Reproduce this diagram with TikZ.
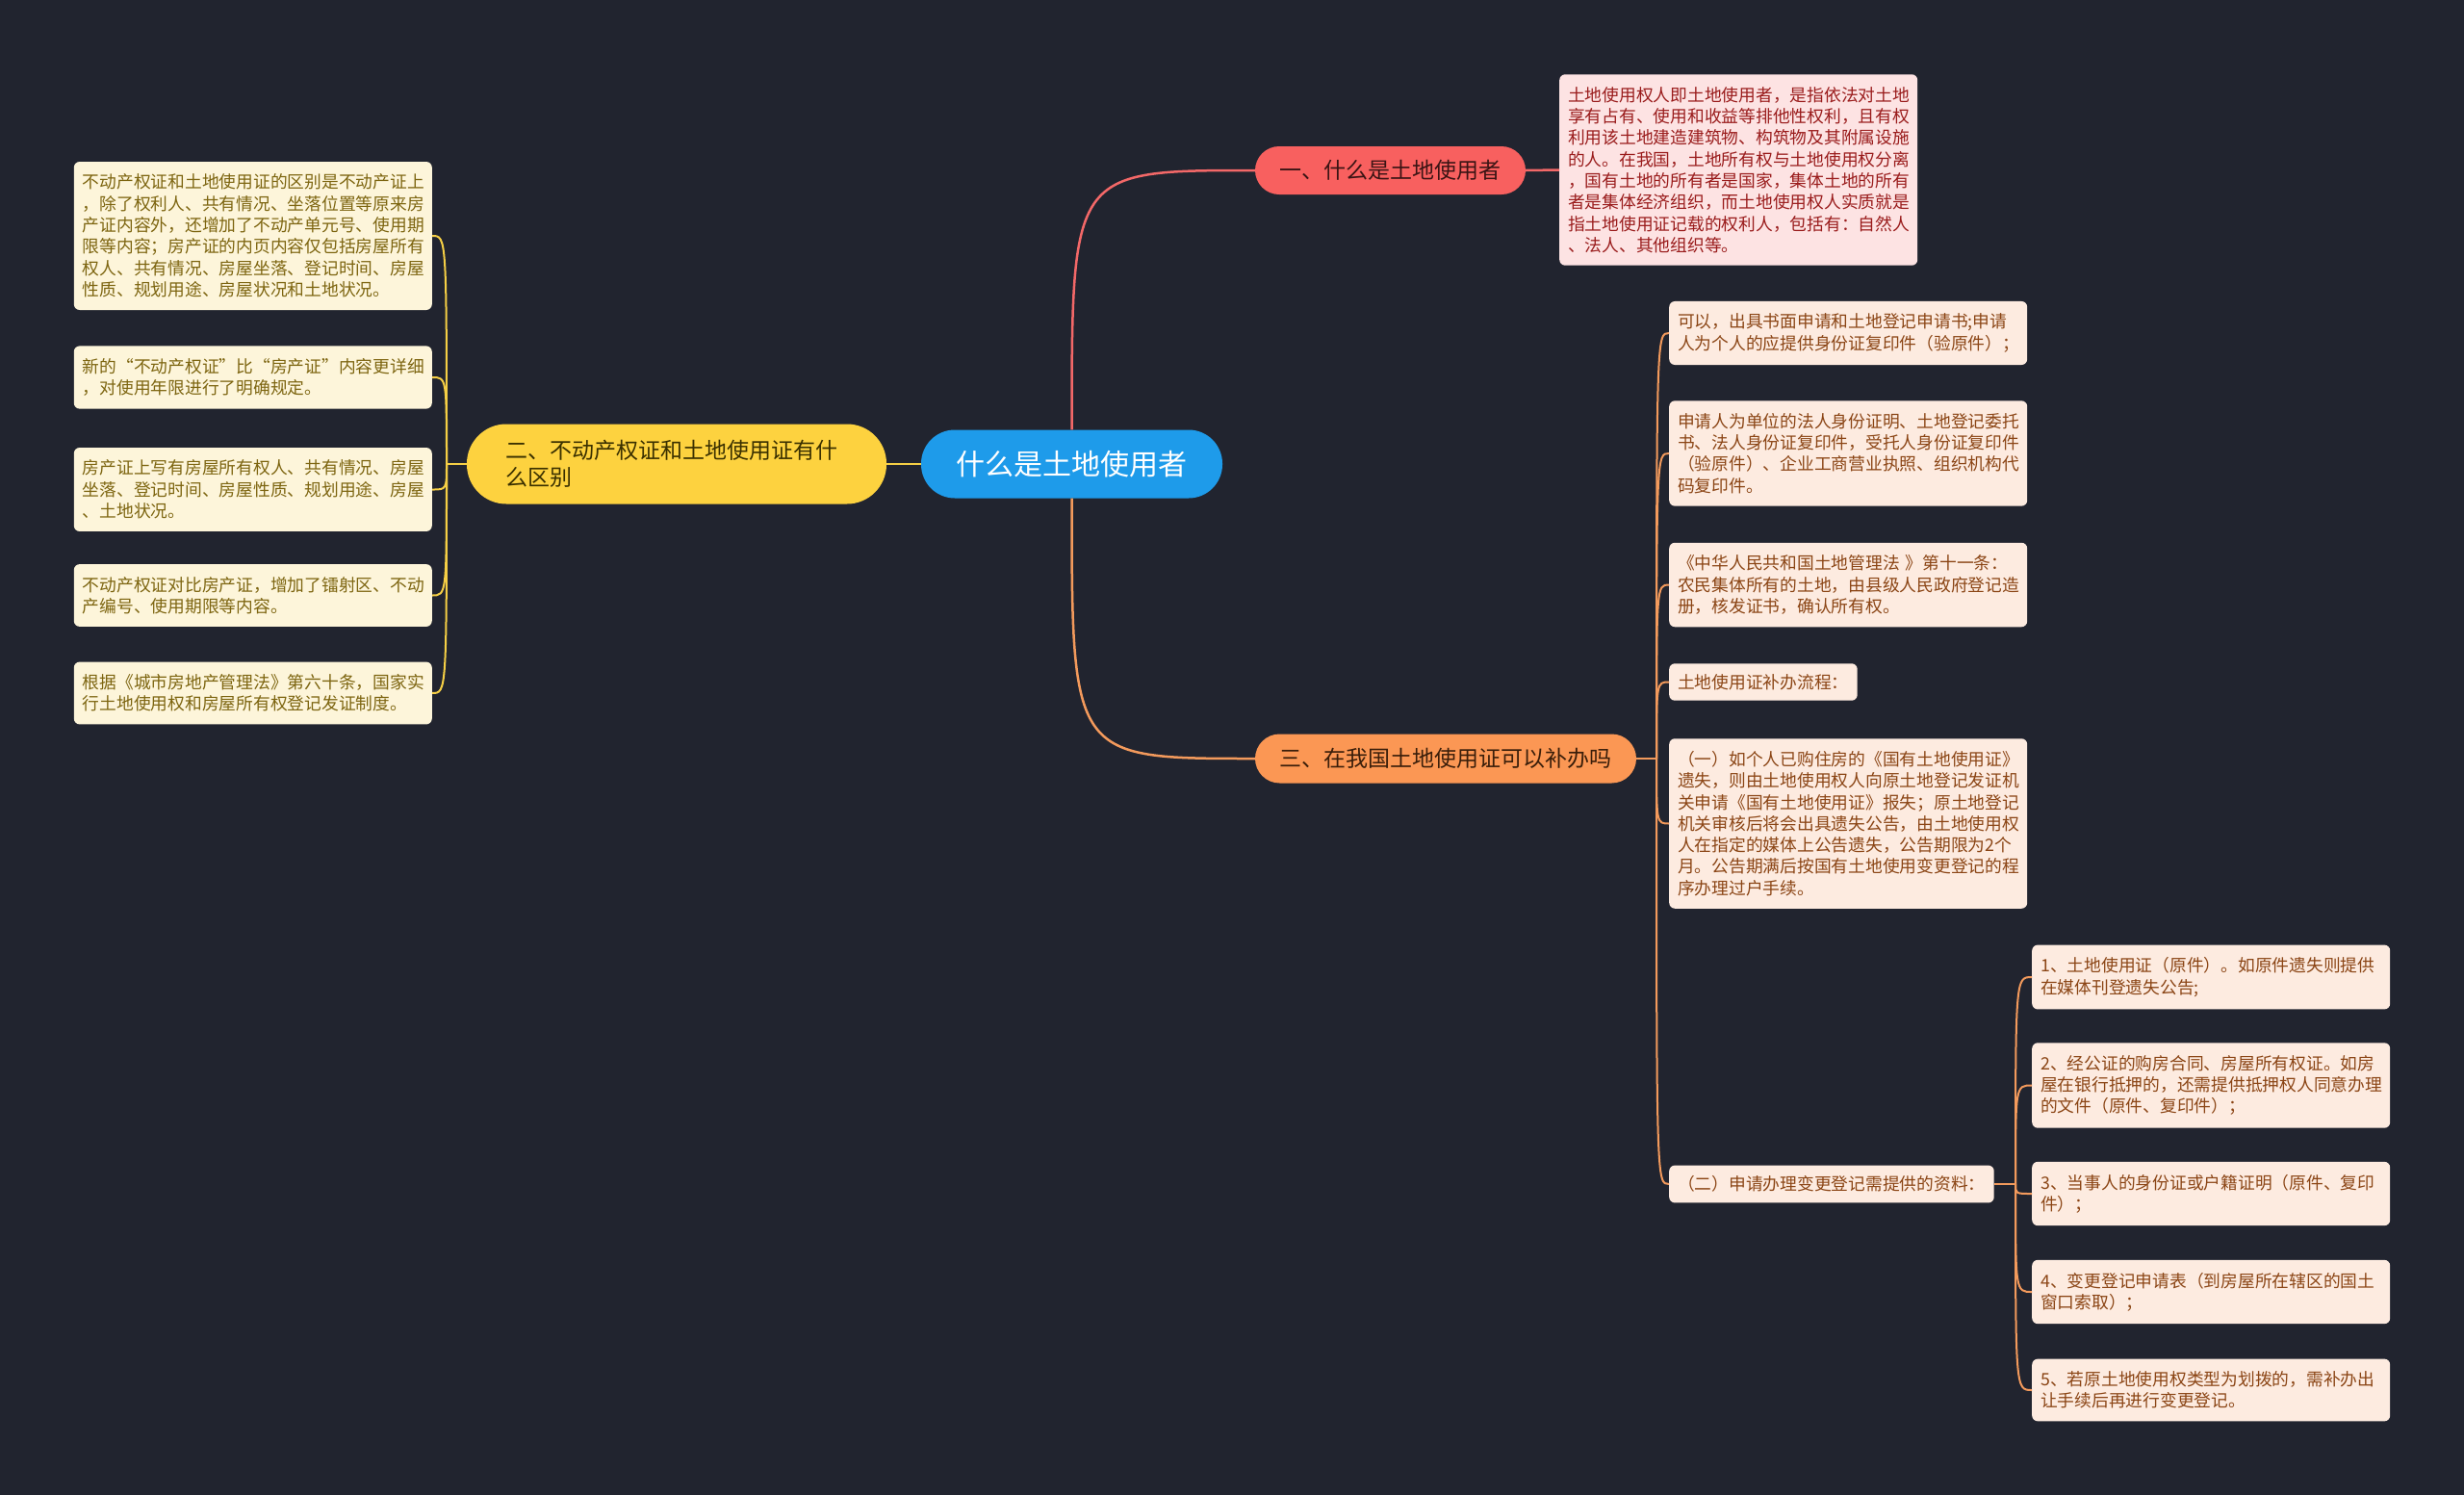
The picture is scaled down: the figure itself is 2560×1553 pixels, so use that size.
\documentclass[tikz,border=0pt]{standalone}
\usepackage{fontspec}
\setmainfont{Noto Sans CJK SC}
\definecolor{bg}{HTML}{21242F}
\definecolor{cblue}{HTML}{1E9BEA}
\definecolor{rfill}{HTML}{F8605F}
\definecolor{rtext}{HTML}{3A1414}
\definecolor{rbox}{HTML}{FDE3E3}
\definecolor{rboxtext}{HTML}{9A1C1C}
\definecolor{rcol}{HTML}{F36868}
\definecolor{yfill}{HTML}{FDD23F}
\definecolor{ytext}{HTML}{3A3000}
\definecolor{ybox}{HTML}{FDF5DA}
\definecolor{yboxtext}{HTML}{7D6510}
\definecolor{ycol}{HTML}{F5CF45}
\definecolor{ofill}{HTML}{FB9754}
\definecolor{otext}{HTML}{3A1E0A}
\definecolor{obox}{HTML}{FDEBE0}
\definecolor{oboxtext}{HTML}{8B4515}
\definecolor{ocol}{HTML}{F39A5C}
\begin{document}
\begin{tikzpicture}[x=1pt,y=-1pt,
  leaf/.style={rounded corners=6pt, inner xsep=9pt, inner ysep=13pt,
    font=\fontsize{17.75pt}{22.3pt}\selectfont, align=left},
  wleaf/.style={leaf, text width=354pt},
  yleaf/.style={wleaf, fill=ybox, text=yboxtext, anchor=east},
  oleaf/.style={wleaf, fill=obox, text=oboxtext, anchor=west},
  onarrow/.style={leaf, inner ysep=11pt, fill=obox, text=oboxtext, anchor=west},
  rleaf/.style={wleaf, fill=rbox, text=rboxtext, anchor=west},
  pill/.style={font=\fontsize{23pt}{28pt}\selectfont, inner sep=0pt},
  ycon/.style={draw=ycol, line width=2pt},
  ocon/.style={draw=ocol, line width=2pt},
  rcon/.style={draw=rcol, line width=2pt},
  maincon/.style={line width=2.5pt}
]
\fill[bg] (0,0) rectangle (2560,1553);
\useasboundingbox (0,0) rectangle (2560,1553);

% central
\node[fill=cblue, text=white, rounded corners=35pt, minimum width=313pt, minimum height=71pt,
  font=\fontsize{30pt}{34pt}\selectfont, inner sep=0pt] (c) at (1113.5,482) {什么是土地使用者};

% branch 1
\node[pill, fill=rfill, text=rtext, rounded corners=25pt, minimum width=281pt, minimum height=50pt] (b1) at (1444.5,177) {一、什么是土地使用者};
\node[rleaf] (d1) at (1620,176.5) {土地使用权人即土地使用者，是指依法对土地\\享有占有、使用和收益等排他性权利，且有权\\利用该土地建造建筑物、构筑物及其附属设施\\的人。在我国，土地所有权与土地使用权分离\\，国有土地的所有者是国家，集体土地的所有\\者是集体经济组织，而土地使用权人实质就是\\指土地使用证记载的权利人，包括有：自然人\\、法人、其他组织等。};

% branch 2
\node[pill, fill=yfill, text=ytext, rounded corners=41pt, minimum height=83pt, inner xsep=40pt,
  text width=356pt, align=left] (b2) at (703,482) {二、不动产权证和土地使用证有什\\么区别};
\node[yleaf] (l1) at (449,245) {不动产权证和土地使用证的区别是不动产证上\\，除了权利人、共有情况、坐落位置等原来房\\产证内容外，还增加了不动产单元号、使用期\\限等内容；房产证的内页内容仅包括房屋所有\\权人、共有情况、房屋坐落、登记时间、房屋\\性质、规划用途、房屋状况和土地状况。};
\node[yleaf] (l2) at (449,392) {新的“不动产权证”比“房产证”内容更详细\\，对使用年限进行了明确规定。};
\node[yleaf] (l3) at (449,508.5) {房产证上写有房屋所有权人、共有情况、房屋\\坐落、登记时间、房屋性质、规划用途、房屋\\、土地状况。};
\node[yleaf] (l4) at (449,618.5) {不动产权证对比房产证，增加了镭射区、不动\\产编号、使用期限等内容。};
\node[yleaf] (l5) at (449,720) {根据《城市房地产管理法》第六十条，国家实\\行土地使用权和房屋所有权登记发证制度。};

% branch 3
\node[pill, fill=ofill, text=otext, rounded corners=25.5pt, minimum width=396pt, minimum height=51pt] (b3) at (1502,788) {三、在我国土地使用证可以补办吗};
\node[oleaf] (r1) at (1734,346) {可以，出具书面申请和土地登记申请书;申请\\人为个人的应提供身份证复印件（验原件）；};
\node[oleaf] (r2) at (1734,471) {申请人为单位的法人身份证明、土地登记委托\\书、法人身份证复印件，受托人身份证复印件\\（验原件）、企业工商营业执照、组织机构代\\码复印件。};
\node[oleaf] (r3) at (1734,607.5) {《中华人民共和国土地管理法 》第十一条：\\农民集体所有的土地，由县级人民政府登记造\\册，核发证书，确认所有权。};
\node[onarrow] (r4) at (1734,708.5) {土地使用证补办流程：};
\node[oleaf] (r5) at (1734,855.5) {（一）如个人已购住房的《国有土地使用证》\\遗失，则由土地使用权人向原土地登记发证机\\关申请《国有土地使用证》报失；原土地登记\\机关审核后将会出具遗失公告，由土地使用权\\人在指定的媒体上公告遗失，公告期限为2个\\月。公告期满后按国有土地使用变更登记的程\\序办理过户手续。};
\node[onarrow] (r6) at (1734,1230) {（二）申请办理变更登记需提供的资料：};
\node[oleaf] (s1) at (2111,1015) {1、土地使用证（原件）。如原件遗失则提供\\在媒体刊登遗失公告;};
\node[oleaf] (s2) at (2111,1127.5) {2、经公证的购房合同、房屋所有权证。如房\\屋在银行抵押的，还需提供抵押权人同意办理\\的文件（原件、复印件）；};
\node[oleaf] (s3) at (2111,1240) {3、当事人的身份证或户籍证明（原件、复印\\件）；};
\node[oleaf] (s4) at (2111,1342) {4、变更登记申请表（到房屋所在辖区的国土\\窗口索取）；};
\node[oleaf] (s5) at (2111,1444) {5、若原土地使用权类型为划拨的，需补办出\\让手续后再进行变更登记。};

% junctions
\coordinate (jl) at (464,482);
\coordinate (jr) at (1721,788);
\coordinate (js) at (2094,1230);

% main connectors
\draw[rcon, maincon] (c.north) .. controls (c.north |- b1.west) and (c.north |- b1.west) .. (b1.west);
\draw[ocon, maincon] (c.south) .. controls (c.south |- b3.west) and (c.south |- b3.west) .. (b3.west);
\draw[ycon, maincon] (c.west) -- (b2.east);
\draw[rcon, maincon] (b1.east) -- (d1.west);

% left bracket
\draw[ycon] (b2.west) -- (jl);
\foreach \n in {l1,l2,l3,l4,l5}
  \draw[ycon] (jl) .. controls (jl |- \n.east) .. (\n.east);

% right bracket
\draw[ocon] (b3.east) -- (jr);
\foreach \n in {r1,r2,r3,r4,r5,r6}
  \draw[ocon] (jr) .. controls (jr |- \n.west) .. (\n.west);

% sub bracket
\draw[ocon] (r6.east) -- (js);
\foreach \n in {s1,s2,s3,s4,s5}
  \draw[ocon] (js) .. controls (js |- \n.west) .. (\n.west);
\end{tikzpicture}
\end{document}
